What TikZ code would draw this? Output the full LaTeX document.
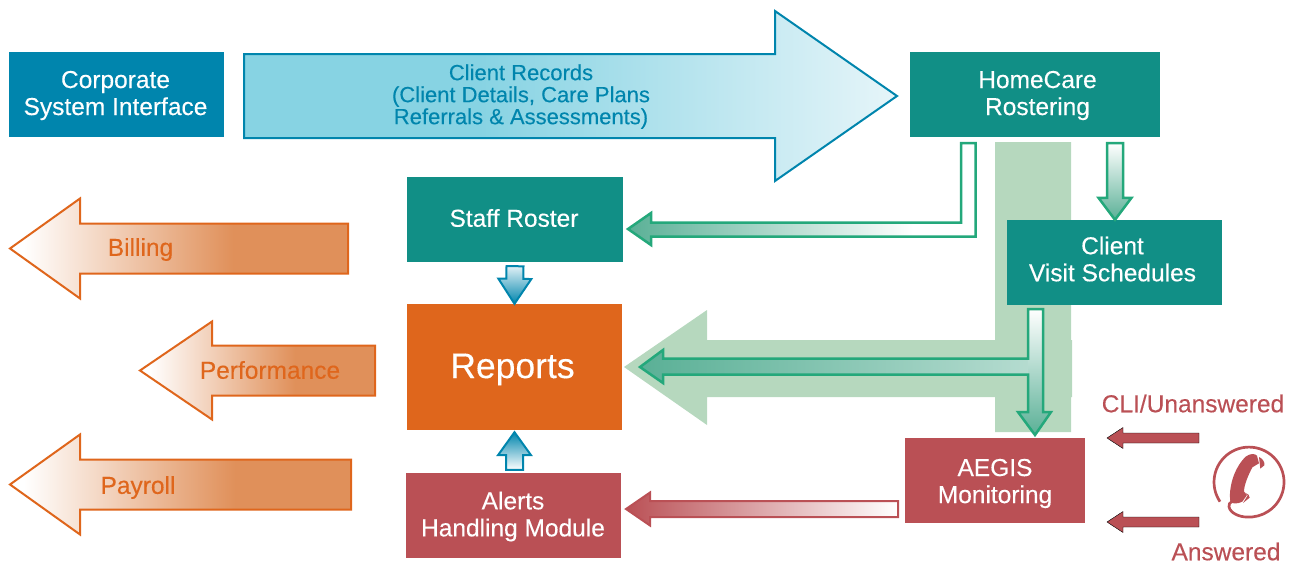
\documentclass[tikz,border=0pt]{standalone}
\usepackage{fontspec}
\setmainfont[BoldFont={Liberation Sans}, BoldFeatures={FakeBold=0.25}]{Liberation Sans}
\usetikzlibrary{calc}

\definecolor{corpblue}{HTML}{0085AD}
\definecolor{rosterteal}{HTML}{118F86}
\definecolor{reportorange}{HTML}{DF661C}
\definecolor{alertred}{HTML}{BA5055}
\definecolor{palegreen}{HTML}{B6D8BE}
\definecolor{arrowgreen}{HTML}{24A87B}
\definecolor{fadegreen}{HTML}{5AB096}
\definecolor{fadeorange}{HTML}{E0905A}
\definecolor{recordcyan}{HTML}{87D3E3}
\definecolor{recordpale}{HTML}{E6F5F9}

\pgfdeclarehorizontalshading{orangefade}{100bp}{color(0bp)=(white); color(27bp)=(white); color(58bp)=(fadeorange); color(100bp)=(fadeorange)}
\pgfdeclarehorizontalshading{greenfade}{100bp}{color(0bp)=(fadegreen); color(25bp)=(fadegreen); color(66bp)=(white); color(100bp)=(white)}
\pgfdeclarehorizontalshading{cyanfade}{100bp}{color(0bp)=(recordcyan); color(43bp)=(recordcyan); color(75bp)=(recordpale); color(100bp)=(recordpale)}

\tikzset{
  boxnode/.style={inner sep=0pt},
  boxtext/.style={inner sep=0pt, text=white, align=center, font=\bfseries\fontsize{24.5}{27}\selectfont},
  recordarrow/.style={draw=corpblue, line width=2pt, shading=cyanfade},
  billarrow/.style={draw=reportorange, line width=2pt, shading=orangefade},
  greenarrow/.style={draw=arrowgreen, line width=2.5pt, top color=white, bottom color=fadegreen},
  bluedown/.style={draw=corpblue, line width=2pt, top color=corpblue!12!white, bottom color=corpblue},
  blueup/.style={draw=corpblue, line width=2pt, top color=corpblue, bottom color=white},
  redfade/.style={draw=alertred, line width=2pt, left color=alertred, right color=white},
  redsolid/.style={fill=alertred},
  arrowtext/.style={inner sep=0pt, align=center, font=\bfseries\fontsize{22}{22}\selectfont},
  billtext/.style={inner sep=0pt, text=reportorange, font=\bfseries\fontsize{24.5}{27}\selectfont},
  redtext/.style={inner sep=0pt, text=alertred, font=\bfseries\fontsize{24.5}{27}\selectfont}
}

% tail, tip, half shaft, half head, head length
\newcommand{\blockarrow}[6]{
  \coordinate (tail) at #2;
  \coordinate (tip) at #3;
  \coordinate (neck) at ($(tip)!#6pt!(tail)$);
  \draw[#1] ($(tail)!#4pt!90:(tip)$) -- ($(neck)!#4pt!90:(tip)$) -- ($(neck)!#5pt!90:(tip)$) -- (tip)
    -- ($(neck)!#5pt!-90:(tip)$) -- ($(neck)!#4pt!-90:(tip)$) -- ($(tail)!#4pt!-90:(tip)$) -- cycle;
}

\begin{document}
\begin{tikzpicture}[x=1pt, y=-1pt]
\useasboundingbox (0,0) rectangle (1293,563);

% pale green cross behind everything
\fill[palegreen] (995,142) -- (1071,142) -- (1071,340) -- (1072,340) -- (1072,397) -- (1071,397) -- (1071,432)
  -- (995,432) -- (995,397) -- (707,397) -- (707,425) -- (624,367) -- (707,310) -- (707,340) -- (995,340) -- cycle;

\node[boxnode, fill=corpblue, minimum width=215, minimum height=85] (corporate) at (116.5,94.5) {};
\node[boxtext] (corporatetext) at (115.5,95.5) {Corporate\\System Interface};
\node[boxnode, fill=rosterteal, minimum width=250, minimum height=85] (homecare) at (1035,94.5) {};
\node[boxtext] (homecaretext) at (1037.5,95.5) {HomeCare\\Rostering};
\node[boxnode, fill=rosterteal, minimum width=216, minimum height=85] (staff) at (515,219.5) {};
\node[boxtext] (stafftext) at (514,218) {Staff Roster};
\node[boxnode, fill=rosterteal, minimum width=215, minimum height=85] (visits) at (1114.5,262.5) {};
\node[boxtext] (visitstext) at (1112.5,259) {Client\\Visit Schedules};
\node[boxnode, fill=reportorange, minimum width=215, minimum height=126] (reports) at (514.5,367) {};
\node[boxtext, font=\bfseries\fontsize{35.5}{36}\selectfont] (reportstext) at (512.5,369.5) {Reports};
\node[boxnode, fill=alertred, minimum width=215, minimum height=85] (alerts) at (513.5,515.5) {};
\node[boxtext] (alertstext) at (513,516.5) {Alerts\\Handling Module};
\node[boxnode, fill=alertred, minimum width=180, minimum height=85] (aegis) at (995,480.5) {};
\node[boxtext] (aegistext) at (995,483.5) {AEGIS\\Monitoring};

\blockarrow{recordarrow}{(244,96)}{(897,96)}{42}{85}{122}
\node[arrowtext, text=corpblue] (records) at (521,96.5) {Client Records\\(Client Details, Care Plans\\Referrals \& Assessments)};

\blockarrow{billarrow}{(348,248.5)}{(10,248.5)}{25}{50}{70}
\node[billtext] (billing) at (140.5,249.5) {Billing};
\blockarrow{billarrow}{(375,370.5)}{(140,370.5)}{25}{49}{72}
\node[billtext] (performance) at (270,370) {Performance};
\blockarrow{billarrow}{(351,484.5)}{(10,484.5)}{25}{50}{70}
\node[billtext] (payroll) at (138,487.5) {Payroll};

% homecare to staff roster
\draw[draw=arrowgreen, line width=2.5pt, shading=greenfade] (975.5,143) -- (975.5,236.5) -- (651,236.5) -- (651,245) -- (628,229)
  -- (651,213) -- (651,222.5) -- (961,222.5) -- (961,143) -- cycle;

\blockarrow{greenarrow}{($(homecare.south)+(80,6)$)}{(visits.north -| 1115,0)}{8}{16.5}{22}

% visit schedules to aegis and reports
\shade[left color=fadegreen, right color=fadegreen!45!white] (663,358.5) -- (663,350) -- (640,367) -- (663,383) -- (663,374.5) -- (1028,374.5) -- (1028,358.5) -- cycle;
\shade[top color=white, bottom color=fadegreen] (1028,309) -- (1043,309) -- (1043,412) -- (1051,412) -- (1035,435) -- (1018,412) -- (1028,412) -- cycle;
\draw[arrowgreen, line width=2.5pt] (1028,309) -- (1043,309) -- (1043,412) -- (1051,412) -- (1035,435) -- (1018,412) -- (1028,412)
  -- (1028,374.5) -- (663,374.5) -- (663,383) -- (640,367) -- (663,350) -- (663,358.5) -- (1028,358.5) -- cycle;

\blockarrow{bluedown}{($(staff.south)+(0,4)$)}{(reports.north)}{8.5}{16.5}{25}
\blockarrow{blueup}{($(alerts.north)+(1,-3)$)}{($(reports.south)+(0,2)$)}{8.5}{16.5}{23}
\blockarrow{redfade}{(898,509)}{(626,509)}{8}{16.5}{24}

\blockarrow{redsolid}{(1199,438)}{(1107,438)}{5}{10.5}{16}
\blockarrow{redsolid}{(1199,522)}{(1107,522)}{5}{10.5}{16}
\node[redtext] (cli) at (1193,403.5) {CLI/Unanswered};
\node[redtext] (answered) at (1226,551.5) {Answered};

% phone, in zoomed coordinates
\begin{scope}[shift={(1205,440)}, x=.3333pt, y=-.3333pt]
  \draw[alertred, line width=2.7pt] (45,185) arc (146:454:105) .. controls (105,231) and (75,220) .. (72,200)
    .. controls (71,193) and (74,188) .. (80,185);
  \fill[alertred] (122,50) .. controls (135,40) and (150,40) .. (156,47) -- (162,70) -- (142,82)
    .. controls (130,105) and (117,135) .. (117,155) -- (126,165) -- (112,185) .. controls (98,192) and (83,192) .. (76,186)
    .. controls (70,145) and (86,85) .. (122,50) -- cycle;
  \fill[alertred] (162,51) .. controls (172,55) and (180,66) .. (178,76) -- (166,86) -- cycle;
  \fill[alertred] (120,158) .. controls (129,160) and (135,168) .. (134,173) -- (114,189) -- (128,166) -- cycle;
\end{scope}
\end{tikzpicture}
\end{document}
